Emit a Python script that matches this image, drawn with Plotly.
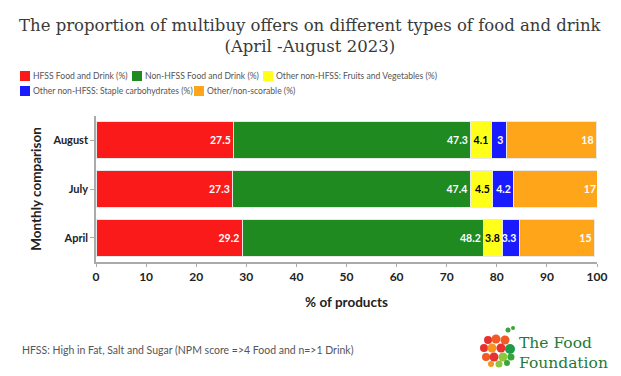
import plotly.graph_objects as go

months = ["April", "July", "August"]
series_names = [
    "HFSS Food and Drink (%)",
    "Non-HFSS Food and Drink (%)",
    "Other non-HFSS: Fruits and Vegetables (%)",
    "Other non-HFSS: Staple carbohydrates (%)",
    "Other/non-scorable (%)",
]
hfss = [29.2, 27.3, 27.5]
non_hfss = [48.2, 47.4, 47.3]
fruit_veg = [3.8, 4.5, 4.1]
staple = [3.3, 4.2, 3]
other = [15, 17, 18]
x_ticks = [0, 10, 20, 30, 40, 50, 60, 70, 80, 90, 100]

colors = ["#fa1a1a", "#1f8a1f", "#ffff1a", "#1a1aff", "#ffa51a"]
text_colors = ["white", "white", "black", "white", "white"]
values = [hfss, non_hfss, fruit_veg, staple, other]

W, H = 621, 376
ML, MR, MT, MB = 96, 24, 116, 114
PW, PH = W - ML - MR, H - MT - MB


def px(x):
    return (x - ML) / PW


def py(y):
    return (H - MB - y) / PH


fig = go.Figure()
for name, vals, c, tc in zip(series_names, values, colors, text_colors):
    fig.add_trace(go.Bar(
        y=months, x=vals, name=name, orientation="h",
        marker=dict(color=c, line=dict(color="#e8e8e8", width=1)),
        text=[f"{v:g}" for v in vals], textposition="inside",
        insidetextanchor="end", textangle=0,
        textfont=dict(family="Lato", size=10.5, color=tc, weight="bold"),
        constraintext="none", showlegend=False,
    ))

fig.update_layout(
    barmode="stack", bargap=0.245,
    width=W, height=H,
    paper_bgcolor="white", plot_bgcolor="white",
    margin=dict(l=ML, r=MR, t=MT, b=MB, autoexpand=False),
    showlegend=False,
    xaxis=dict(
        range=[0, 100], tickvals=x_ticks, showgrid=False, zeroline=False,
        showline=True, linecolor="#aaaaaa", linewidth=1.5,
        ticks="outside", ticklen=3, tickcolor="#aaaaaa",
        tickfont=dict(family="Lato", size=12, color="#222222", weight="bold"),
        title=dict(text="% of products", font=dict(family="Lato", size=13.5, color="#222222", weight="bold"), standoff=14),
        automargin=False,
    ),
    yaxis=dict(
        showgrid=False, showline=True, linecolor="#aaaaaa", linewidth=1.5,
        ticks="outside", ticklen=4, tickcolor="#aaaaaa",
        tickfont=dict(family="Lato", size=11, color="#222222", weight="bold"),
        title=dict(text="Monthly comparison", font=dict(family="Lato", size=13.5, color="#222222", weight="bold"), standoff=8),
        automargin=False,
    ),
)

# title
fig.add_annotation(
    text="The proportion of multibuy offers on different types of food and drink<br>(April -August 2023)",
    xref="paper", yref="paper", x=px(W / 2), y=py(36), xanchor="center", yanchor="middle",
    showarrow=False, align="center",
    font=dict(family="DejaVu Serif", size=16.5, color="#3a3a3a"),
)

# custom legend (two rows like the reference)
legend_rows = [[0, 1, 2], [3, 4]]
legend_y = [76, 91]
legend_x = [[20, 132, 263], [20, 194]]
for row, ly, xs in zip(legend_rows, legend_y, legend_x):
    for i, x in zip(row, xs):
        fig.add_shape(type="rect", xref="paper", yref="paper",
                      x0=px(x), x1=px(x + 10), y0=py(ly + 5), y1=py(ly - 5),
                      fillcolor=colors[i], line=dict(width=0))
        fig.add_annotation(text=series_names[i], xref="paper", yref="paper",
                           x=px(x + 11), y=py(ly), xanchor="left", yanchor="middle",
                           showarrow=False, font=dict(family="Lato", size=8.6, color="#555555"))

fig.add_annotation(
    text="HFSS: High in Fat, Salt and Sugar (NPM score =>4 Food and n=>1 Drink)",
    xref="paper", yref="paper", x=px(20), y=py(350), xanchor="left", yanchor="middle",
    showarrow=False, font=dict(family="Lato", size=10.5, color="#555555"),
)
fig.add_annotation(
    text="The Food<br>Foundation",
    xref="paper", yref="paper", x=px(517), y=py(353), xanchor="left", yanchor="middle",
    showarrow=False, align="left",
    font=dict(family="DejaVu Serif", size=15.5, color="#1e7a3a"),
)
# decorative logo dots (apple shape)
logo_dots = [
    (488, 340, 4, "#e8312f"), (496, 339, 4.5, "#f15a24"), (505, 340, 4.5, "#f15a24"),
    (484, 348, 4, "#e8312f"), (492, 348, 4.5, "#f7941d"), (501, 348, 4.5, "#e8312f"), (510, 349, 5, "#1e9a4a"),
    (486, 357, 4, "#f15a24"), (494, 357, 4.5, "#e8312f"), (503, 357, 4.5, "#8dc63f"), (511, 357, 3.5, "#3aa63a"),
    (491, 364, 3, "#f7941d"), (499, 364, 3.5, "#8dc63f"), (507, 363, 3, "#3aa63a"),
    (508, 330, 2.5, "#3aa63a"), (513, 328, 2, "#3aa63a"),
]
for cx, cy, r, col in logo_dots:
    fig.add_shape(type="circle", xref="paper", yref="paper",
                  x0=px(cx - r), x1=px(cx + r), y0=py(cy + r), y1=py(cy - r),
                  fillcolor=col, line=dict(width=0))

fig.write_html("out.html", config={"displayModeBar": False},
               post_script="document.body.style.margin='0px';")
